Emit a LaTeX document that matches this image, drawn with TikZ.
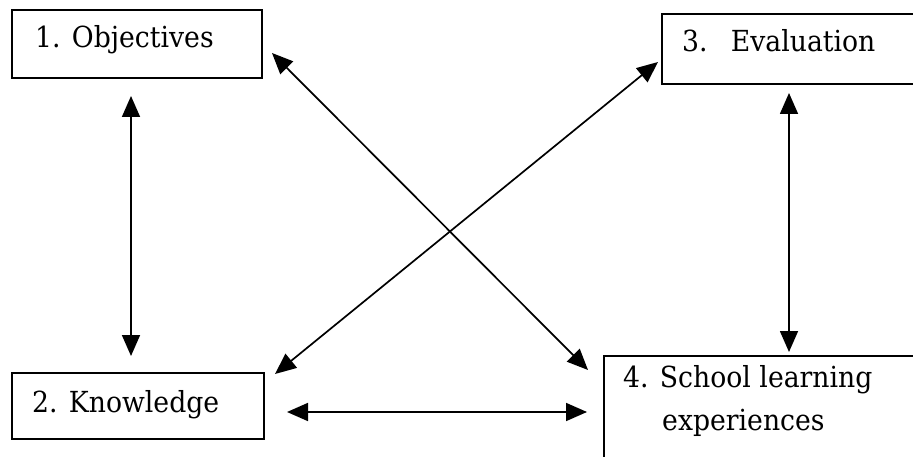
\documentclass[tikz,border=0pt]{standalone}
\usepackage{fontspec}
\setmainfont{DejaVu Serif}[FakeStretch=0.92]
\usetikzlibrary{arrows.meta}
\tikzset{
  box/.style={draw=black, line width=2pt, fill=white, inner sep=0pt, anchor=north west},
  txt/.style={inner sep=0pt, anchor=base west, font=\fontsize{29}{33}\selectfont},
  link/.style={line width=1.7pt, {Triangle[length=21pt,width=18pt]}-{Triangle[length=21pt,width=18pt]}}
}
\begin{document}
\begin{tikzpicture}[x=1pt,y=-1pt]
\clip (0,0) rectangle (913,457);
\fill[white] (0,0) rectangle (913,457);
% boxes
\node[box, minimum width=250pt, minimum height=68pt] (b1) at (11,9) {};
\node[box, minimum width=260pt, minimum height=70pt] (b3) at (661,13) {};
\node[box, minimum width=252pt, minimum height=66pt] (b2) at (11,372) {};
\node[box, minimum width=320pt, minimum height=120pt] (b4) at (603,355) {};
% texts
\node[txt] (t1) at (35,48) {1. Objectives};
\node[txt] (t3) at (682,52) {3.\hspace{0.8em}Evaluation};
\node[txt] (t2) at (32,412) {2. Knowledge};
\node[txt] (t4a) at (623,387) {4. School learning};
\node[txt] (t4b) at (662,430) {experiences};
% arrow end points
\coordinate (l1) at (131,96);
\coordinate (l2) at (131,356);
\coordinate (r1) at (789,93);
\coordinate (r2) at (789,352);
\coordinate (h1) at (287,412);
\coordinate (h2) at (587,412);
\coordinate (d1a) at (272,53);
\coordinate (d1b) at (588,370);
\coordinate (d2a) at (658,62);
\coordinate (d2b) at (275,374);
% connectors
\draw[link] (l1) -- (l2);
\draw[link] (r1) -- (r2);
\draw[link] (h1) -- (h2);
\draw[link] (d1a) -- (d1b);
\draw[link] (d2a) -- (d2b);
\end{tikzpicture}
\end{document}
